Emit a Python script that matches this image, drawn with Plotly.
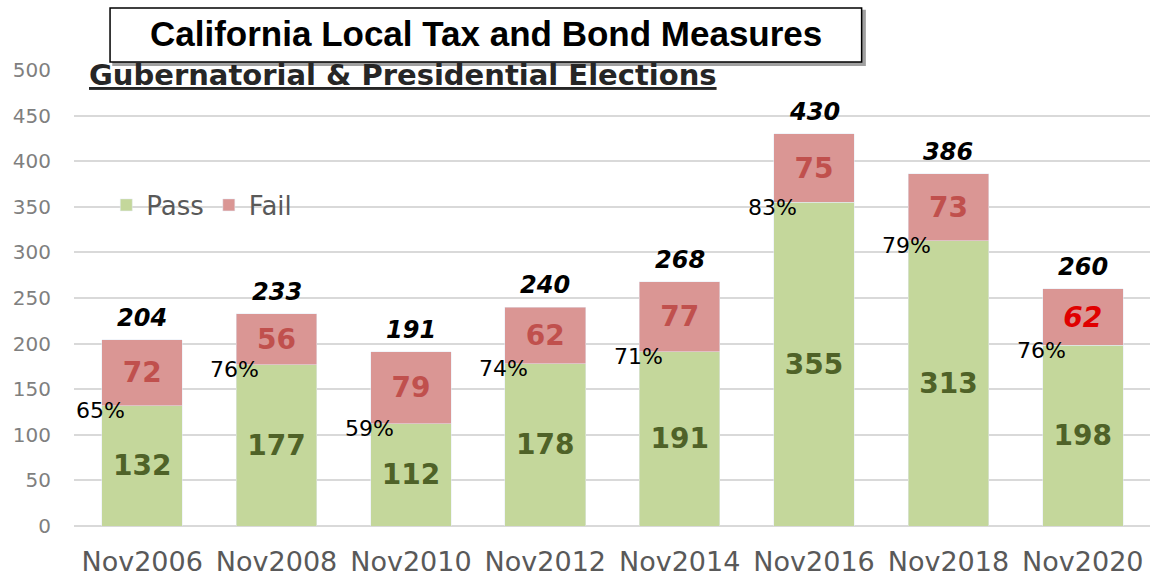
import plotly.graph_objects as go

categories = ["Nov2006", "Nov2008", "Nov2010", "Nov2012", "Nov2014", "Nov2016", "Nov2018", "Nov2020"]
pass_vals = [132, 177, 112, 178, 191, 355, 313, 198]
fail_vals = [72, 56, 79, 62, 77, 75, 73, 62]
totals = [204, 233, 191, 240, 268, 430, 386, 260]
pass_pct = ["65%", "76%", "59%", "74%", "71%", "83%", "79%", "76%"]
yticks = [0, 50, 100, 150, 200, 250, 300, 350, 400, 450, 500]

GREEN = "#C4D79B"
RED = "#DA9694"
FONT = "DejaVu Sans"

fail_colors = ["#C0504D"] * (len(fail_vals) - 1) + ["#E00000"]
fail_text = [f"<b>{v}</b>" for v in fail_vals[:-1]] + [f"<b><i>{fail_vals[-1]}</i></b>"]

fig = go.Figure()
fig.add_trace(go.Bar(
    x=categories, y=pass_vals, name="Pass", marker_color=GREEN,
    text=[f"<b>{v}</b>" for v in pass_vals], textposition="inside",
    insidetextanchor="middle", textangle=0,
    textfont=dict(family=FONT, size=28, color="#4F6228"),
    constraintext="none", hoverinfo="skip",
))
fig.add_trace(go.Bar(
    x=categories, y=fail_vals, name="Fail", marker_color=RED,
    text=fail_text, textposition="inside",
    insidetextanchor="middle", textangle=0,
    textfont=dict(family=FONT, size=28, color=fail_colors),
    constraintext="none", hoverinfo="skip",
))

annotations = []
for i, (t, p, pct) in enumerate(zip(totals, pass_vals, pass_pct)):
    annotations.append(dict(
        x=i, y=t, xref="x", yref="y", text=f"<b><i>{t}</i></b>",
        showarrow=False, yanchor="bottom", yshift=6,
        font=dict(family=FONT, size=24, color="black"),
    ))
    annotations.append(dict(
        x=i - 0.31, y=p, xref="x", yref="y", text=pct,
        showarrow=False, yanchor="middle", yshift=-5,
        font=dict(family=FONT, size=22, color="black"),
    ))

annotations.append(dict(
    x=0.0335 + (0.732 - 0.0335) / 2, y=1.08, xref="paper", yref="paper",
    text="<b>California Local Tax and Bond Measures</b>", showarrow=False,
    xanchor="center", yanchor="middle",
    font=dict(family="Liberation Sans", size=35, color="black"),
))
annotations.append(dict(
    x=0.012, y=0.99, xref="paper", yref="paper",
    text="<b><u>Gubernatorial & Presidential Elections</u></b>", showarrow=False,
    xanchor="left", yanchor="middle",
    font=dict(family=FONT, size=29, color="#262626"),
))

shapes = [
    dict(type="rect", xref="paper", yref="paper", x0=0.0365, x1=0.735, y0=1.011, y1=1.130,
         line=dict(color="#A0A0A0", width=2), fillcolor="#A0A0A0", layer="above"),
    dict(type="rect", xref="paper", yref="paper", x0=0.0335, x1=0.732, y0=1.0175, y1=1.136,
         line=dict(color="black", width=1.5), fillcolor="white", layer="above"),
]

fig.update_layout(
    barmode="stack",
    bargap=0.4,
    width=1157, height=578,
    margin=dict(l=74, r=7, t=70, b=52),
    paper_bgcolor="white", plot_bgcolor="white",
    font=dict(family=FONT),
    showlegend=True,
    legend=dict(
        orientation="h", x=0.03, y=0.704, xanchor="left", yanchor="middle",
        font=dict(family=FONT, size=26, color="#595959"),
        bgcolor="rgba(0,0,0,0)", traceorder="normal",
    ),
    annotations=annotations,
    shapes=shapes,
)
fig.update_xaxes(
    tickfont=dict(family=FONT, size=27, color="#595959"),
    showgrid=False, showline=False, ticklabelstandoff=17, automargin=False,
)
fig.update_yaxes(
    range=[0, 500], tickvals=yticks,
    tickfont=dict(family=FONT, size=20, color="#7F7F7F"),
    showgrid=True, gridcolor="#D9D9D9", gridwidth=2,
    zeroline=True, zerolinecolor="#D9D9D9", zerolinewidth=2,
    showline=False, ticklabelstandoff=22, automargin=False,
)

fig.write_html("out.html")
